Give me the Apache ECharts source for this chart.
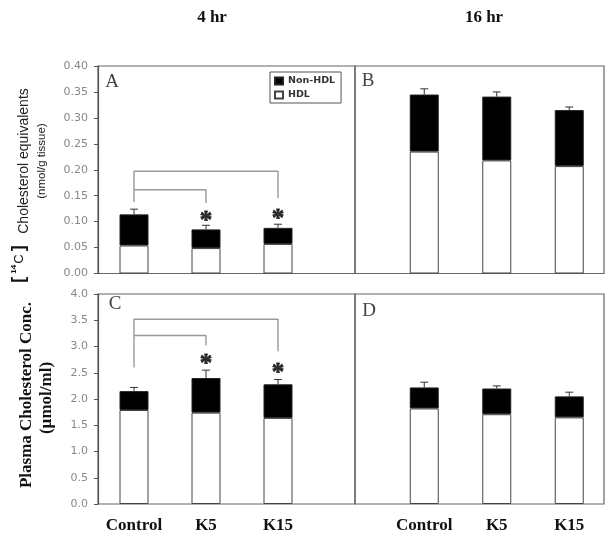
<!DOCTYPE html>
<html><head><meta charset="utf-8">
<script src="https://cdn.jsdelivr.net/npm/echarts@6/dist/echarts.min.js"></script>
<style>html,body{margin:0;padding:0;background:#fff}#c{width:616px;height:540px}</style>
</head><body><div id="c"></div>
<script>
// ---- data ----
const categories = ['Control', 'K5', 'K15'];
const columnTitles = ['4 hr', '16 hr'];
const panelLetters = ['A', 'B', 'C', 'D'];
const seriesNames = ['Non-HDL', 'HDL'];

// Panel A (tissue, 4 hr)
const hdlA = [0.054, 0.049, 0.057];
const nonA = [0.060, 0.036, 0.031];
const errA = [0.010, 0.008, 0.007];
// Panel B (tissue, 16 hr)
const hdlB = [0.235, 0.218, 0.207];
const nonB = [0.110, 0.123, 0.108];
const errB = [0.011, 0.009, 0.006];
// Panel C (plasma, 4 hr)
const hdlC = [1.79, 1.74, 1.64];
const nonC = [0.36, 0.66, 0.64];
const errC = [0.07, 0.15, 0.09];
// Panel D (plasma, 16 hr)
const hdlD = [1.82, 1.71, 1.65];
const nonD = [0.40, 0.49, 0.40];
const errD = [0.10, 0.05, 0.08];

// significance brackets: [left foot, bar level, right foot]
const bracketAInner = [0.138, 0.1615, 0.136];
const bracketAOuter = [0.1615, 0.197, 0.1455];
const bracketCInner = [2.60, 3.21, 3.02];
const bracketCOuter = [3.21, 3.52, 2.91];
// asterisk levels
const starsA = [null, 0.110, 0.114];
const starsC = [null, 2.76, 2.585];

const ticksTop = {min: 0, max: 0.4, interval: 0.05, digits: 2};
const ticksBottom = {min: 0, max: 4, interval: 0.5, digits: 1};

// ---- chart ----
const chart = echarts.init(document.getElementById('c'), null, {renderer: 'canvas'});

const grids = [
  {left: 98, top: 66, width: 216, height: 207.5},
  {left: 388, top: 66, width: 217.5, height: 207.5},
  {left: 98, top: 294, width: 216, height: 210},
  {left: 388, top: 294, width: 217.5, height: 210},
  {left: 98, top: 66, width: 257, height: 207.5, show: true, borderColor: '#666', borderWidth: 1.2, backgroundColor: 'transparent'},
  {left: 355, top: 66, width: 249, height: 207.5, show: true, borderColor: '#666', borderWidth: 1.2, backgroundColor: 'transparent'},
  {left: 98, top: 294, width: 257, height: 210, show: true, borderColor: '#666', borderWidth: 1.2, backgroundColor: 'transparent'},
  {left: 355, top: 294, width: 249, height: 210, show: true, borderColor: '#666', borderWidth: 1.2, backgroundColor: 'transparent'}
];

const xAxes = [0, 1, 2, 3].map(i => ({
  gridIndex: i, type: 'category', data: categories,
  axisLine: {show: false}, axisTick: {show: false}, splitLine: {show: false},
  axisLabel: {show: i >= 2, interval: 0, hideOverlap: false, fontFamily: 'Liberation Serif', fontWeight: 'bold', fontSize: 17, color: '#111', margin: 13}
})).concat([4, 5, 6, 7].map(i => ({gridIndex: i, type: 'value', show: false})));

function yAx(i, t, showAxis) {
  return {
    gridIndex: i, type: 'value', min: t.min, max: t.max, interval: t.interval, show: showAxis,
    axisLine: {show: true, lineStyle: {color: '#555', width: 1.2}},
    axisTick: {show: true, inside: false, length: 4, lineStyle: {color: '#555'}},
    splitLine: {show: false},
    axisLabel: {formatter: v => v.toFixed(t.digits), color: '#888', fontSize: 11, fontFamily: 'DejaVu Sans', margin: 10}
  };
}
const yAxes = [yAx(0, ticksTop, true), yAx(1, ticksTop, false), yAx(2, ticksBottom, true), yAx(3, ticksBottom, false)]
  .concat([4, 5, 6, 7].map(i => ({gridIndex: i, type: 'value', show: false})));

const panels = [
  {hdl: hdlA, non: nonA, err: errA},
  {hdl: hdlB, non: nonB, err: errB},
  {hdl: hdlC, non: nonC, err: errC},
  {hdl: hdlD, non: nonD, err: errD}
];

const series = [];
panels.forEach((p, i) => {
  series.push({
    type: 'bar', name: 'HDL', stack: 's' + i, xAxisIndex: i, yAxisIndex: i, barWidth: 29,
    data: p.hdl, itemStyle: {color: '#fff', borderColor: '#444', borderWidth: 1}, animation: false
  });
  series.push({
    type: 'bar', name: 'Non-HDL', stack: 's' + i, xAxisIndex: i, yAxisIndex: i, barWidth: 29,
    data: p.non, itemStyle: {color: '#000', borderColor: '#222', borderWidth: 1}, animation: false
  });
  series.push({
    type: 'custom', xAxisIndex: i, yAxisIndex: i, z: 5, animation: false,
    encode: {x: 0, y: 1},
    data: p.hdl.map((h, k) => [k, h + p.non[k], p.err[k]]),
    renderItem: (params, api) => {
      const base = api.coord([api.value(0), api.value(1)]);
      const top = api.coord([api.value(0), api.value(1) + api.value(2)]);
      return {type: 'group', children: [
        {type: 'line', shape: {x1: base[0], y1: base[1], x2: top[0], y2: top[1]}, style: {stroke: '#333', lineWidth: 1}},
        {type: 'line', shape: {x1: top[0] - 4, y1: top[1], x2: top[0] + 4, y2: top[1]}, style: {stroke: '#333', lineWidth: 1}}
      ]};
    }
  });
});

function bracket(levels, from, to) {
  return [[from, levels[0]], [from, levels[1]], [to, levels[1]], [to, levels[2]]];
}
[[0, bracketAInner, 1], [0, bracketAOuter, 2], [2, bracketCInner, 1], [2, bracketCOuter, 2]].forEach(([ax, lv, to]) => {
  series.push({
    type: 'line', xAxisIndex: ax, yAxisIndex: ax, data: bracket(lv, 0, to), symbol: 'none',
    lineStyle: {color: '#999', width: 1.4}, z: 3, animation: false, silent: true
  });
});
[[0, starsA], [2, starsC]].forEach(([ax, st]) => {
  series.push({
    type: 'scatter', xAxisIndex: ax, yAxisIndex: ax, symbolSize: 1, itemStyle: {color: 'rgba(0,0,0,0)'},
    data: st.map((v, k) => v == null ? null : [k, v]).filter(d => d),
    label: {show: true, position: [0.5, 6], align: 'center', verticalAlign: 'middle', formatter: '*', fontSize: 25, fontWeight: 'bold', fontFamily: 'Liberation Serif', color: '#000',
      textBorderColor: '#000', textBorderWidth: 0.8},
    labelLayout: {hideOverlap: false},
    z: 6, animation: false, silent: true
  });
});

function txt(text, x, y, size, opts) {
  return Object.assign({type: 'text', x: x, y: y, style: Object.assign({
    text: text, fontSize: size, fontFamily: 'Liberation Serif', fontWeight: 'bold', fill: '#111',
    align: 'center', verticalAlign: 'middle'}, (opts && opts.style) || {})}, (opts && opts.el) || {});
}
const R = Math.PI / 2;
const graphic = [
  txt(columnTitles[0], 212, 18, 17),
  txt(columnTitles[1], 484, 18, 17),
  txt(panelLetters[0], 112, 82, 19, {style: {fontWeight: 'normal', fill: '#444'}}),
  txt(panelLetters[1], 368, 81, 19, {style: {fontWeight: 'normal', fill: '#444'}}),
  txt(panelLetters[2], 115, 304, 19, {style: {fontWeight: 'normal', fill: '#444'}}),
  txt(panelLetters[3], 369, 311, 19, {style: {fontWeight: 'normal', fill: '#444'}}),
  txt('Cholesterol equivalents', 24, 161, 14, {style: {fontFamily: 'Liberation Sans', fontWeight: 'normal', fill: '#222'}, el: {rotation: R}}),
  txt('(nmol/g tissue)', 42, 161, 11.5, {style: {fontFamily: 'Liberation Sans', fontWeight: 'normal', fill: '#222'}, el: {rotation: R}}),
  {type: 'text', x: 19, y: 264, rotation: R, style: {
    text: '{b|[}{s|14}{c|C}{b|]}', align: 'center', verticalAlign: 'middle', fill: '#111',
    rich: {
      b: {fontSize: 18, fontWeight: 'bold', fontFamily: 'Liberation Sans', fill: '#111'},
      s: {fontSize: 8, fontWeight: 'bold', fontFamily: 'Liberation Sans', fill: '#111', verticalAlign: 'top', padding: [0, 1, 6, 3]},
      c: {fontSize: 13, fontFamily: 'Liberation Sans', fill: '#111', padding: [0, 3, 0, 0]}
    }}},
  txt('Plasma Cholesterol Conc.', 27, 395, 17, {el: {rotation: R}}),
  txt('(\u00b5mol/ml)', 47, 398, 17, {el: {rotation: R}})
];

chart.setOption({
  animation: false,
  backgroundColor: '#fff',
  grid: grids,
  xAxis: xAxes,
  yAxis: yAxes,
  legend: {
    data: seriesNames, orient: 'vertical', left: 270, top: 72, icon: 'rect',
    itemWidth: 8, itemHeight: 7, itemGap: 4, padding: [4, 6, 3, 4],
    borderColor: '#555', borderWidth: 1, backgroundColor: '#fff',
    textStyle: {fontSize: 9.5, fontWeight: 'bold', fontFamily: 'DejaVu Sans', color: '#333', padding: [0, 0, 0, 0]}
  },
  series: series,
  graphic: graphic
});
</script></body></html>
